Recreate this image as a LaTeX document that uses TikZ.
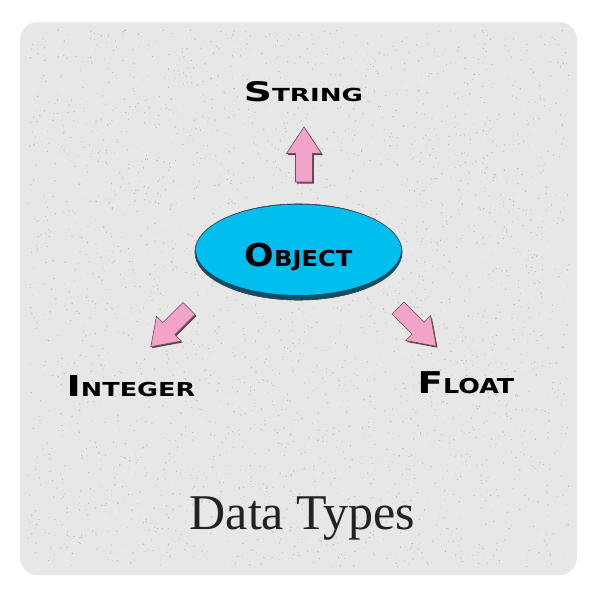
\documentclass[tikz,border=0pt]{standalone}
\usepackage{graphicx}
\usepackage{fontspec}
\setmainfont{Liberation Serif}
\newfontfamily\lblfont{DejaVu Sans}
\usetikzlibrary{shapes.geometric,calc}
\definecolor{bgpanel}{HTML}{E7E7E7}
\definecolor{speck}{HTML}{BDBDBD}
\definecolor{objcyan}{HTML}{00BFEF}
\definecolor{objshadow}{HTML}{0A4F66}
\definecolor{objedge}{HTML}{3A4A50}
\definecolor{arrowpink}{HTML}{F2A3C7}
\definecolor{arrowedge}{HTML}{4A2433}
\definecolor{titlegray}{HTML}{222222}
\newcommand\mysc[5]{\scalebox{#1}[1]{\fontsize{#2}{#2}\selectfont #4\fontsize{#3}{#3}\selectfont #5}}
\tikzset{
  lbl/.style={inner sep=0pt, anchor=base, font=\lblfont\bfseries, text=black},
  objell/.style={ellipse, minimum width=207pt, minimum height=96pt, inner sep=0pt, fill=objshadow, draw=objedge, line width=0.6pt},
  arrowbody/.style={fill=arrowpink, draw=arrowedge!80, line width=0.6pt, line join=miter},
  arrowshade/.style={fill=arrowedge, fill opacity=0.85},
  arrowshadow/.pic={
    \fill[arrowshade] (0,-8.5) -- (28.5,-8.5) -- (28.5,-17.5) -- (#1,0) -- (28.5,17.5) -- (28.5,8.5) -- (0,8.5) -- cycle;
  },
  arrowshadow/.default=55,
  blockarrow/.pic={
    \draw[arrowbody] (0,-8.5) -- (28.5,-8.5) -- (28.5,-17.5) -- (#1,0) -- (28.5,17.5) -- (28.5,8.5) -- (0,8.5) -- cycle;
  },
  blockarrow/.default=55
}
\begin{document}
\begin{tikzpicture}[x=1pt,y=-1pt]
\useasboundingbox (0,0) rectangle (600,600);
\fill[white] (0,0) rectangle (600,600);
\fill[bgpanel, rounded corners=18pt] (20,22) rectangle (577,575);
% paper texture
\pgfmathsetseed{4711}
\foreach \i in {1,...,3000}{
  \pgfmathsetmacro{\px}{28+rnd*541}
  \pgfmathsetmacro{\py}{30+rnd*537}
  \pgfmathsetmacro{\pr}{0.35+rnd*0.5}
  \fill[speck] (\px,\py) circle (\pr pt);
}

% central ellipse
\node[objell] (obj) at (298.5,252) {};
\fill[objcyan] ($(obj.center)+(0,-2.2)$) ellipse (102.6pt and 45.2pt);
\draw[objedge, line width=0.6pt] (obj.center) ellipse (103.5pt and 48pt);
\node[lbl] (objlabel) at (298.5,266) {\mysc{1.1}{31.5}{22}{O}{BJECT}};

% block arrows (shadow first, then body)
\pic (arrSs) [rotate=90] at (305.3,183.5) {arrowshadow=55};
\pic (arrS) [rotate=90] at (304,182) {blockarrow=55};
\pic (arrIs) [rotate=225] at (190.3,310) {arrowshadow=54};
\pic (arrI) [rotate=225] at (189,308.5) {blockarrow=54};
\pic (arrFs) [rotate=315] at (399.3,309.5) {arrowshadow=54};
\pic (arrF) [rotate=315] at (398,308) {blockarrow=54};

% labels
\node[lbl] (strlabel) at (303.5,101.5) {\mysc{1.45}{27}{18}{S}{TRING}};
\node[lbl] (intlabel) at (131,396) {\mysc{1.33}{28.8}{19.2}{I}{NTEGER}};
\node[lbl] (fltlabel) at (466,393.3) {\mysc{1.24}{30}{20.5}{F}{LOAT}};

% title
\node[inner sep=0pt, anchor=base, text=titlegray, font=\fontsize{50}{50}\selectfont] (title) at (302.5,529) {Data Types};
\end{tikzpicture}
\end{document}
